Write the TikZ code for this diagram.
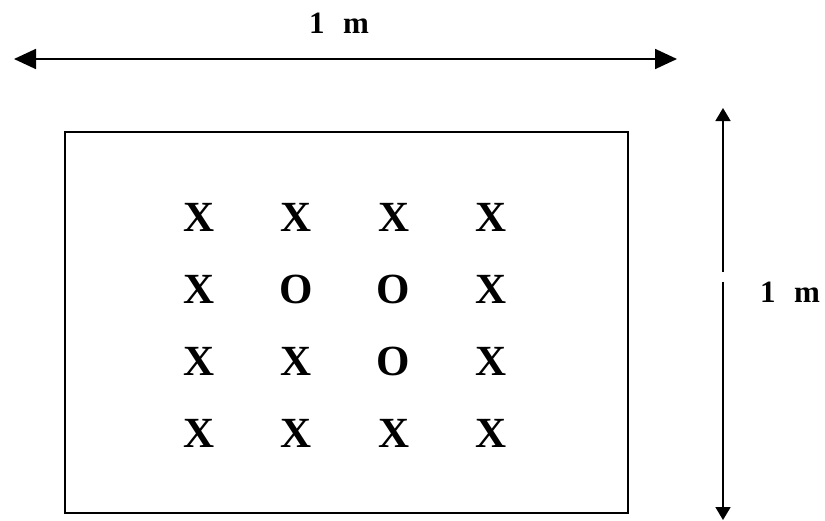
\documentclass[tikz,border=0pt]{standalone}
\usepackage{fontspec}
\setmainfont{Liberation Serif}
\usetikzlibrary{arrows.meta,positioning}

\begin{document}
\begin{tikzpicture}[
    x=1pt, y=-1pt,
    frame/.style={draw, line width=2pt},
    dimline/.style={draw, line width=1.8pt},
    bigtip/.style={-{Triangle[length=22pt,width=20pt]}},
    smalltip/.style={-{Triangle[length=13pt,width=15pt]}},
    dimlabel/.style={font=\fontsize{31}{31}\selectfont\bfseries, inner sep=0pt},
    cellmark/.style={font=\fontsize{43}{43}\selectfont\bfseries, inner sep=0pt}
]

\useasboundingbox (0,0) rectangle (825,520);

% Plot frame
\node [frame, minimum width=563pt, minimum height=381pt, inner sep=0pt,
    anchor=north west] (plot) at (64,131) {};

% Width dimension
\coordinate (wleft) at (14,59);
\coordinate (wright) at (677,59);
\coordinate (wmid) at (345,59);
\draw [dimline, bigtip] (wmid) -- (wleft);
\draw [dimline, bigtip] (wmid) -- (wright);
\node [dimlabel] (wlabel) at (339,23) {1\hspace{0.6em}m};

% Height dimension
\coordinate (htop) at (723,108);
\coordinate (hbot) at (723,520);
\coordinate (hgapT) at (723,272);
\coordinate (hgapB) at (723,282);
\draw [dimline, smalltip] (hgapT) -- (htop);
\draw [dimline, smalltip] (hgapB) -- (hbot);
\node [dimlabel] (hlabel) at (790,292) {1\hspace{0.6em}m};

% Grid of marks
\foreach \row/\marks in {1/{X,X,X,X}, 2/{X,O,O,X}, 3/{X,X,O,X}, 4/{X,X,X,X}} {
    \foreach \m [count=\col] in \marks {
        \node [cellmark] (cell-\row-\col) at ({199+97.3*(\col-1)}, {217+72.3*(\row-1)}) {\m};
    }
}

\end{tikzpicture}
\end{document}
